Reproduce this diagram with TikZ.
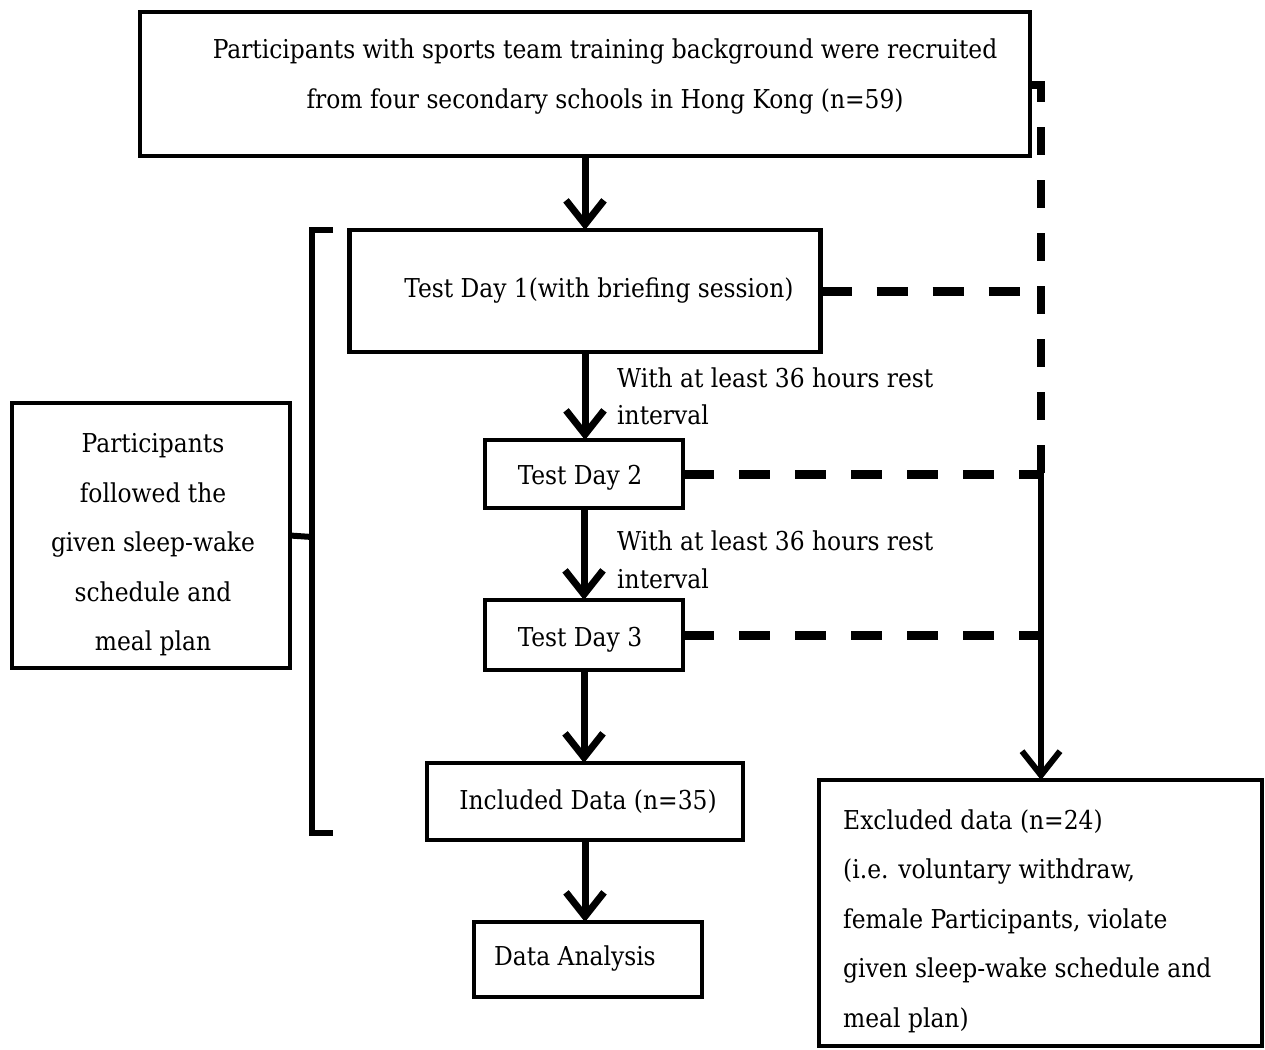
\documentclass[tikz,border=0pt]{standalone}
\usepackage{fontspec}
\setmainfont{DejaVu Serif Condensed}
\usetikzlibrary{arrows.meta}
\begin{document}
\begin{tikzpicture}[x=1pt,y=-1pt,
  box/.style={draw, line width=4.5pt, inner sep=0pt, outer sep=0pt},
  txt/.style={inner sep=0pt, font=\fontsize{26}{50}\selectfont, align=center},
  lbl/.style={inner sep=0pt, font=\fontsize{26}{37.5}\selectfont, align=left, anchor=west},
  flow/.style={line width=7pt, -{Straight Barb[length=24pt,width=38pt]}},
  exclline/.style={line width=9pt, dash pattern=on 31pt off 25pt},
  brk/.style={line width=6pt},
]
\fill[white] (0,0) rectangle (1265,1049);
\useasboundingbox (0,0) rectangle (1265,1049);

% boxes
\node[box, minimum width=890pt, minimum height=144pt] (top) at (585,84) {};
\node[txt] (toptext) at (605,77) {Participants with sports team training background were recruited\\from four secondary schools in Hong Kong (n=59)};
\node[box, minimum width=471pt, minimum height=122pt] (d1) at (585,291) {};
\node[txt] (d1text) at (599,291) {Test Day 1(with briefing session)};
\node[box, minimum width=198pt, minimum height=68pt] (d2) at (584,474) {};
\node[txt] (d2text) at (580,478) {Test Day 2};
\node[box, minimum width=198pt, minimum height=70pt] (d3) at (584,635) {};
\node[txt] (d3text) at (580,640) {Test Day 3};
\node[box, minimum width=316pt, minimum height=77pt] (inc) at (585,801.5) {};
\node[txt] (inctext) at (588,802) {Included Data (n=35)};
\node[box, minimum width=228pt, minimum height=75pt] (da) at (588,959.5) {};
\node[txt] (datext) at (575,958) {Data Analysis};
\node[box, minimum width=443pt, minimum height=266pt] (exc) at (1040.5,913) {};
\node[lbl, font=\fontsize{26}{49.5}\selectfont] (exctext) at (843,921) {Excluded data (n=24)\\(i.e. voluntary withdraw,\\female Participants, violate\\given sleep-wake schedule and\\meal plan)};
\node[box, minimum width=278pt, minimum height=265pt] (left) at (151,535.5) {};
\node[txt, font=\fontsize{26}{49.5}\selectfont] (lefttext) at (153,545) {Participants\\followed the\\given sleep-wake\\schedule and\\meal plan};

% labels
\node[lbl] (lab1) at (617,396.5) {With at least 36 hours rest\\interval};
\node[lbl] (lab2) at (617,560) {With at least 36 hours rest\\interval};

% main flow
\draw[flow] (top.south) -- (top.south |- d1.north);
\draw[flow] (d1.south) -- (d1.south |- d2.north);
\draw[flow] (d2.south) -- (d2.south |- d3.north);
\draw[flow] (d3.south) -- (d3.south |- inc.north);
\draw[flow] (inc.south) -- (inc.south |- da.north);

% exclusion line
\coordinate (vtop) at (1041,85);
\coordinate (vj) at (1041,475);
\draw[line width=8pt, dash pattern=on 28pt off 25pt] (top.east |- vtop) -- (vtop) -- (vj);
\draw[exclline] (d1.east) -- (d1.east -| vj);
\draw[exclline] (d2.east) -- (d2.east -| vj);
\draw[exclline] (d3.east) -- (d3.east -| vj);
\draw[flow, line width=6pt] ([yshift=4pt]vj) -- (vj |- exc.north);

% bracket
\coordinate (bm) at (312,537);
\draw[brk] (333,230) -- (312,230) -- (312,833) -- (333,833);
\draw[brk] (left.east) -- (bm);
\end{tikzpicture}
\end{document}
